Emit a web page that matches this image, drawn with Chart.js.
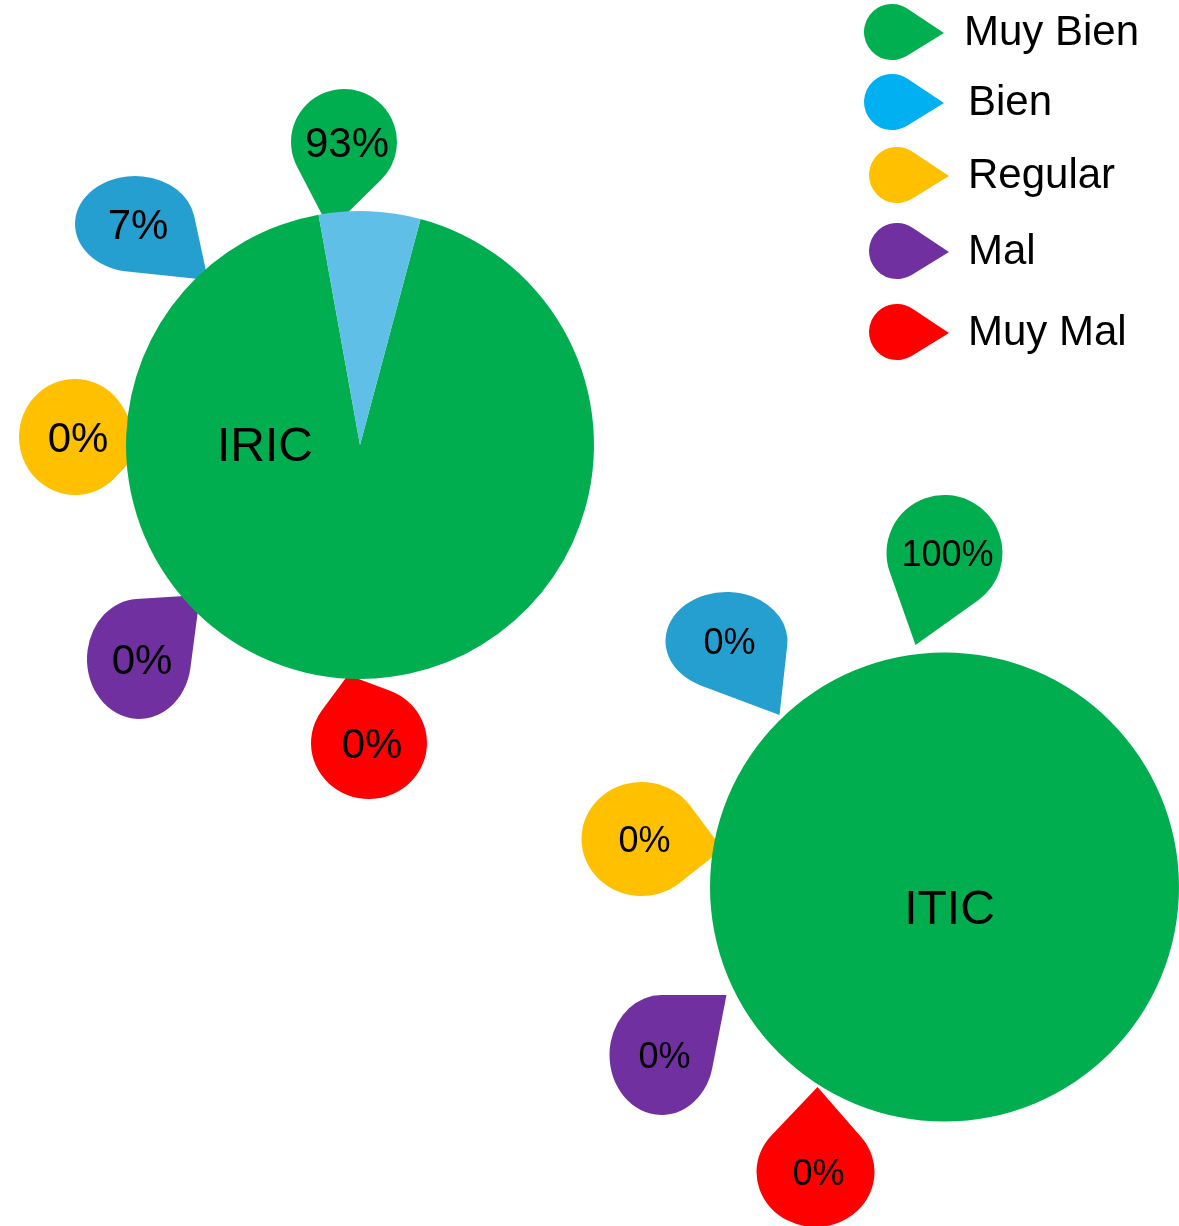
<!DOCTYPE html>
<html>
<head>
<meta charset="utf-8">
<script src="https://cdn.jsdelivr.net/npm/chart.js@4.4.1/dist/chart.umd.min.js"></script>
<style>
  body { margin: 0; background: #fff; }
  #wrap { position: relative; width: 1179px; height: 1226px; overflow: hidden; }
  #wrap canvas { position: absolute; left: 0; top: 0; }
</style>
</head>
<body>
<div id="wrap">
  <canvas id="iricChart" width="1179" height="1226"></canvas>
  <canvas id="iticChart" width="1179" height="1226"></canvas>
</div>
<script>
// --- data ---
const categories = ["Muy Bien", "Bien", "Regular", "Mal", "Muy Mal"];
const iricValues = [93, 7, 0, 0, 0];
const iticValues = [100, 0, 0, 0, 0];
const pieTitles = ["IRIC", "ITIC"];

// --- colours ---
const legendColors = ["#00B050", "#00B0F0", "#FFC000", "#7030A0", "#FF0000"];
const calloutColors = ["#00AE4F", "#259FCF", "#FFC000", "#7030A0", "#FF0000"];
const iricSliceColors = ["#00AE4F", "#5FBFE6", "#FFC000", "#7030A0", "#FF0000"];
const iticSliceColors = ["#00AE4F", "#00B0F0", "#FFC000", "#7030A0", "#FF0000"];

const FONT = "Liberation Sans, Arial, sans-serif";

// callout bubble layout, relative to the pie centre: bubble centre, radii, tail tip
const iricCallouts = [
  { b: [-16, -303], r: [53, 53], t: [-30, -215] },
  { b: [-225, -221], r: [60, 48], t: [-152, -165] },
  { b: [-285, -8], r: [56, 58], t: [-215, 1] },
  { b: [-221, 214], r: [52, 60], t: [-160, 150] },
  { b: [9, 298], r: [58, 56], t: [-12, 230] },
];
const iticCallouts = [
  { b: [0, -334], r: [58, 58], t: [-29, -242] },
  { b: [-218, -246], r: [61, 49], t: [-165, -172] },
  { b: [-303, -48], r: [60, 57], t: [-222, -38] },
  { b: [-283, 168], r: [52, 60], t: [-218, 108] },
  { b: [-129, 285], r: [59, 55], t: [-127, 200] },
];

// legend rows (marker centre y)
const legendRows = [32, 102, 175, 251, 332];

/**
 * Teardrop: ellipse with a pointed tail ending at (tx, ty)
 */
function drawDrop(ctx, cx, cy, rx, ry, tx, ty, color) {
  ctx.save();
  ctx.translate(cx, cy);
  ctx.scale(rx, ry);
  const lx = (tx - cx) / rx;
  const ly = (ty - cy) / ry;
  const d = Math.hypot(lx, ly);
  const phi = Math.atan2(ly, lx);
  const th = Math.acos(Math.min(1, 1 / d));
  ctx.beginPath();
  ctx.moveTo(lx, ly);
  ctx.arc(0, 0, 1, phi + th, phi - th + 2 * Math.PI);
  ctx.closePath();
  ctx.fillStyle = color;
  ctx.fill();
  ctx.restore();
}

const calloutPlugin = {
  id: "callouts",
  beforeDatasetsDraw(chart, args, opts) {
    const ctx = chart.ctx;
    const meta = chart.getDatasetMeta(0);
    const cx = meta.data[0].x;
    const cy = meta.data[0].y;
    const values = chart.data.datasets[0].data;
    const total = values.reduce((a, b) => a + b, 0);
    opts.layout.forEach((c, i) => {
      const bx = cx + c.b[0];
      const by = cy + c.b[1];
      drawDrop(ctx, bx, by, c.r[0], c.r[1], cx + c.t[0], cy + c.t[1], calloutColors[i]);
      ctx.save();
      ctx.fillStyle = "#000";
      ctx.font = `${opts.fontSize}px ${FONT}`;
      ctx.textAlign = "center";
      ctx.textBaseline = "middle";
      ctx.fillText(Math.round((values[i] / total) * 100) + "%", bx + 3, by + 3);
      ctx.restore();
    });
  },
  afterDatasetsDraw(chart, args, opts) {
    const ctx = chart.ctx;
    const meta = chart.getDatasetMeta(0);
    ctx.save();
    ctx.fillStyle = "#000";
    ctx.font = `48px ${FONT}`;
    ctx.textAlign = "center";
    ctx.textBaseline = "middle";
    ctx.fillText(opts.title, meta.data[0].x + opts.titleOffset[0], meta.data[0].y + opts.titleOffset[1]);
    ctx.restore();
  },
  afterDraw(chart, args, opts) {
    if (!opts.legend) return;
    const ctx = chart.ctx;
    categories.forEach((name, i) => {
      const y = legendRows[i];
      const mx = i < 2 ? 892 : 897;
      drawDrop(ctx, mx, y, 28, 28, mx + 52, y + 1, legendColors[i]);
      ctx.save();
      ctx.fillStyle = "#000";
      ctx.font = `42px ${FONT}`;
      ctx.textAlign = "left";
      ctx.textBaseline = "middle";
      ctx.fillText(name, i === 0 ? 964 : 968, y + 1);
      ctx.restore();
    });
  },
};

function makePie(id, values, colors, rotation, padding, pluginOpts) {
  const canvas = document.getElementById(id);
  return new Chart(canvas.getContext("2d"), {
    type: "pie",
    data: {
      labels: categories,
      datasets: [
        {
          data: values,
          backgroundColor: colors,
          borderWidth: 0,
        },
      ],
    },
    options: {
      responsive: false,
      animation: false,
      rotation: rotation,
      layout: { padding: padding },
      plugins: {
        legend: { display: false },
        tooltip: { enabled: false },
        callouts: pluginOpts,
      },
    },
    plugins: [calloutPlugin],
  });
}

// IRIC: centre (360, 445), radius 234
makePie("iricChart", iricValues, iricSliceColors, 15,
  { left: 126, top: 211, right: 585, bottom: 547 },
  { layout: iricCallouts, fontSize: 42, title: pieTitles[0], titleOffset: [-95, 3], legend: false });

// ITIC: centre (946, 887), radius 236
makePie("iticChart", iticValues, iticSliceColors, 0,
  { left: 710, top: 651, right: -3, bottom: 103 },
  { layout: iticCallouts, fontSize: 36, title: pieTitles[1], titleOffset: [5, 24], legend: true });
</script>
</body>
</html>
